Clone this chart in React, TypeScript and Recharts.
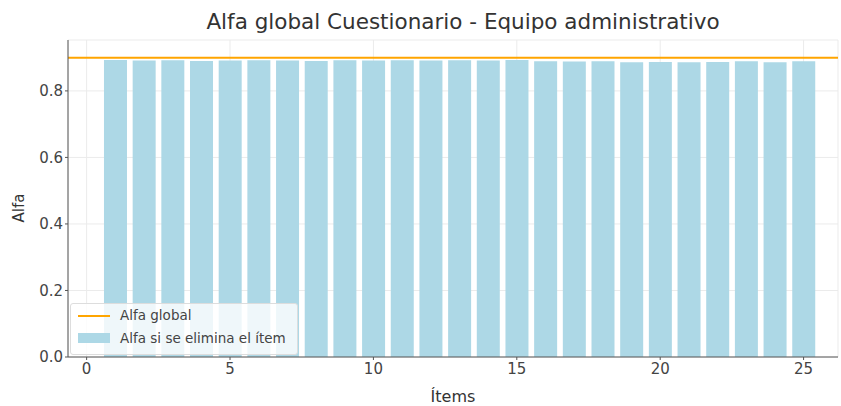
import { ComposedChart, Bar, XAxis, YAxis, CartesianGrid, ReferenceLine } from 'recharts'

// items 1..25
const items = Array.from({ length: 25 }, (_, i) => i + 1)

// Alfa if the item is removed
const alfaSinItem = [
  0.893, 0.891, 0.892, 0.890, 0.891, 0.892, 0.891, 0.890, 0.892, 0.891,
  0.892, 0.891, 0.892, 0.891, 0.893, 0.889, 0.888, 0.889, 0.886, 0.887,
  0.886, 0.887, 0.889, 0.886, 0.889,
]

const alfaGlobal = 0.9

const xTicks = [0, 5, 10, 15, 20, 25]
const yTicks = [0, 0.2, 0.4, 0.6, 0.8]

const data = items.map((item, i) => ({ item, alfa: alfaSinItem[i] }))

const FONT = '"DejaVu Sans", Verdana, sans-serif'
const BAR_COLOR = '#add8e6'
const LINE_COLOR = '#ffa500'

export default function App() {
  return (
    <div style={{ position: 'absolute', left: 0, top: 0, width: 841, height: 406, background: '#fff', fontFamily: FONT }}>
      <div
        style={{
          position: 'absolute',
          left: 68,
          width: 790,
          top: 9,
          textAlign: 'center',
          fontSize: 21.5,
          color: '#333',
        }}
      >
        Alfa global Cuestionario - Equipo administrativo
      </div>
      <ComposedChart
        width={841}
        height={406}
        data={data}
        margin={{ top: 40, right: 3, bottom: 0, left: 0 }}
      >
        <CartesianGrid stroke="#ebebeb" strokeWidth={1} />
        <XAxis
          dataKey="item"
          type="number"
          domain={[-0.65, 26.2]}
          ticks={xTicks}
          allowDataOverflow
          height={49}
          tickSize={3}
          tickMargin={3}
          stroke="#555"
          tick={{ fill: '#444', fontSize: 15, fontFamily: FONT }}
          label={{ value: 'Ítems', position: 'insideBottom', offset: 4, fill: '#333', fontSize: 16, fontFamily: FONT }}
        />
        <YAxis
          type="number"
          domain={[0, 0.953]}
          ticks={yTicks}
          allowDataOverflow
          width={68}
          tickSize={3}
          tickMargin={2}
          stroke="#555"
          tickFormatter={(v: number) => v.toFixed(1)}
          tick={{ fill: '#444', fontSize: 15, fontFamily: FONT }}
        />
        <Bar dataKey="alfa" fill={BAR_COLOR} barSize={23} isAnimationActive={false} />
        <ReferenceLine y={alfaGlobal} stroke={LINE_COLOR} strokeWidth={2} />
      </ComposedChart>
      <div
        style={{
          position: 'absolute',
          left: 19,
          top: 208,
          transform: 'translate(-50%, -50%) rotate(-90deg)',
          fontSize: 15,
          color: '#333',
          whiteSpace: 'nowrap',
        }}
      >
        Alfa
      </div>
      <div
        style={{
          position: 'absolute',
          left: 70,
          top: 303,
          width: 228,
          height: 52,
          background: 'rgba(255,255,255,0.8)',
          border: '1px solid #ddd',
          borderRadius: 3,
          boxSizing: 'border-box',
          fontSize: 13.5,
          color: '#444',
        }}
      >
        <div style={{ position: 'absolute', left: 7, top: 11, width: 32, height: 2, background: LINE_COLOR }} />
        <div style={{ position: 'absolute', left: 49, top: 3 }}>Alfa global</div>
        <div style={{ position: 'absolute', left: 7, top: 29, width: 32, height: 10, background: BAR_COLOR }} />
        <div style={{ position: 'absolute', left: 49, top: 26 }}>Alfa si se elimina el ítem</div>
      </div>
    </div>
  )
}
